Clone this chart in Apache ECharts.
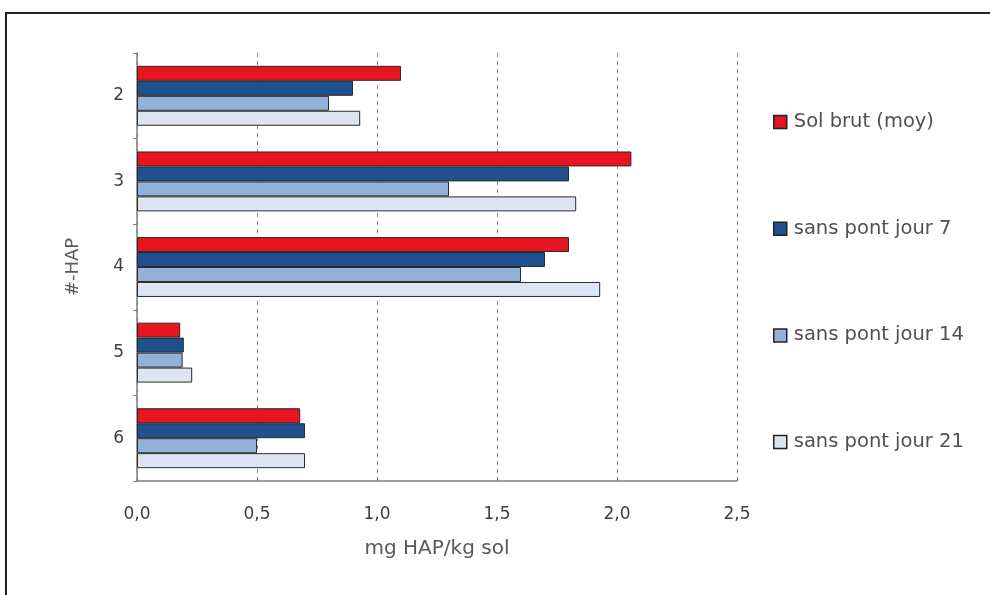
<!DOCTYPE html>
<html>
<head>
<meta charset="utf-8">
<script src="https://cdn.jsdelivr.net/npm/echarts@6/dist/echarts.min.js"></script>
<style>
html,body{margin:0;padding:0;background:#fff;}
#c{width:990px;height:595px;}
</style>
</head>
<body>
<div id="c"></div>
<script>
const categories = ['2', '3', '4', '5', '6'];
const seriesNames = ['Sol brut (moy)', 'sans pont jour 7', 'sans pont jour 14', 'sans pont jour 21'];
const solBrut = [1.10, 2.06, 1.80, 0.18, 0.68];
const jour7 = [0.90, 1.80, 1.70, 0.195, 0.70];
const jour14 = [0.80, 1.30, 1.60, 0.19, 0.50];
const jour21 = [0.93, 1.83, 1.93, 0.23, 0.70];
const xTicks = [0, 0.5, 1.0, 1.5, 2.0, 2.5];

const colors = ['#e8141f', '#20508e', '#93b2d9', '#dce6f2'];
const values = [solBrut, jour7, jour14, jour21];
const FONT = '"DejaVu Sans", "Open Sans", sans-serif';

const chart = echarts.init(document.getElementById('c'));
chart.setOption({
  animation: false,
  backgroundColor: '#fff',
  grid: { left: 137, right: 253, top: 53, bottom: 114 },
  graphic: [{
    type: 'rect', silent: true,
    shape: { x: 6, y: 13, width: 1000, height: 620 },
    style: { fill: 'none', stroke: '#222', lineWidth: 2 }
  }],
  legend: {
    orient: 'vertical', left: 768, top: 107, itemGap: 87,
    icon: 'rect', itemWidth: 13, itemHeight: 13, itemGap: 86.7,
    itemStyle: { borderColor: '#222', borderWidth: 1.5 },
    textStyle: { fontSize: 19.5, color: '#505050', fontFamily: FONT, lineHeight: 20, padding: [0, 0, 0, 2] },
    data: seriesNames
  },
  xAxis: {
    type: 'value', min: xTicks[0], max: xTicks[xTicks.length - 1], interval: 0.5,
    name: 'mg HAP/kg sol', nameLocation: 'middle', nameGap: 58,
    nameTextStyle: { fontSize: 20, color: '#595959', fontFamily: FONT },
    axisLine: { show: true, lineStyle: { color: '#7f7f7f', width: 1.5 } },
    axisTick: { show: true, inside: true, length: 4, lineStyle: { color: '#7f7f7f' } },
    axisLabel: { fontSize: 17, color: '#404040', fontFamily: FONT, margin: 25,
      formatter: v => v.toFixed(1).replace('.', ',') },
    splitLine: { show: true, lineStyle: { color: '#909090', type: [4, 4], width: 1 } }
  },
  yAxis: {
    type: 'category', data: categories, inverse: true,
    name: '#-HAP', nameLocation: 'middle', nameGap: 55,
    nameTextStyle: { fontSize: 18, color: '#595959', fontFamily: FONT },
    axisLine: { show: true, lineStyle: { color: '#7f7f7f', width: 1.5 } },
    axisTick: { show: true, length: 4, lineStyle: { color: '#7f7f7f' } },
    axisLabel: { fontSize: 17, color: '#404040', fontFamily: FONT, margin: 13 }
  },
  series: seriesNames.map((n, i) => ({
    name: n, type: 'bar', data: values[i],
    barGap: '0%', barCategoryGap: '30%',
    itemStyle: { color: colors[i], borderColor: '#2b2b2b', borderWidth: 1 }
  }))
});
</script>
</body>
</html>
